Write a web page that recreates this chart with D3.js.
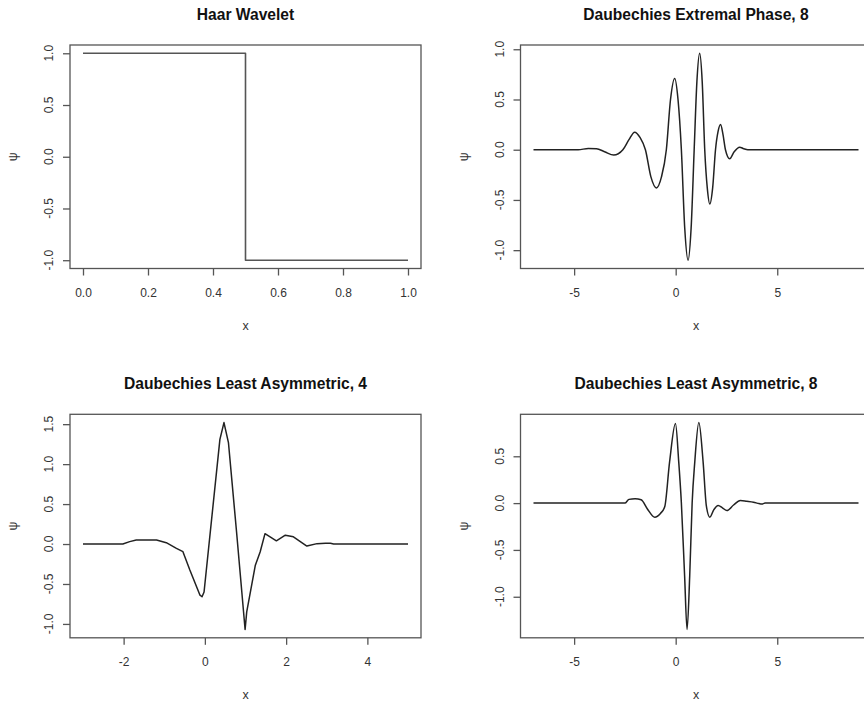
<!DOCTYPE html>
<html>
<head>
<meta charset="utf-8">
<script src="https://cdn.jsdelivr.net/npm/d3@7"></script>
<style>
  html, body { margin: 0; padding: 0; background: #fff; }
  svg { display: block; }
  text { font-family: "Liberation Sans", Arial, sans-serif; }
</style>
</head>
<body>
<svg id="chart" width="864" height="702"></svg>
<script>
// ---- Data ----
const titles = ["Haar Wavelet", "Daubechies Extremal Phase, 8", "Daubechies Least Asymmetric, 4", "Daubechies Least Asymmetric, 8"];

const haarX = [0, 0.5, 0.5, 1];
const haarY = [1, 1, -1, -1];

const ep8X = [-7, -4.8, -4.3, -3.9, -3.5, -3.05, -2.6, -2.3, -2.02, -1.75, -1.49, -1.22, -0.95, -0.7, -0.46, -0.255, -0.05, 0.115, 0.28, 0.445, 0.61, 0.76, 0.91, 1.045, 1.18, 1.305, 1.43, 1.555, 1.68, 1.82, 1.96, 2.085, 2.21, 2.33, 2.45, 2.66, 2.88, 3.15, 3.35, 3.55, 9];
const ep8Y = [0, 0, 0.012, 0.01, -0.02, -0.053, 0, 0.1, 0.175, 0.12, 0, -0.27, -0.38, -0.27, 0, 0.5, 0.71, 0.5, 0, -0.78, -1.1, -0.78, 0, 0.68, 0.96, 0.68, 0, -0.38, -0.54, -0.38, 0, 0.18, 0.25, 0.15, 0, -0.09, -0.02, 0.025, 0.01, 0, 0];

const la4X = [-3, -2.02, -1.85, -1.69, -1.19, -0.95, -0.7, -0.54, -0.37, -0.12, -0.07, -0.02, 0.37, 0.47, 0.58, 0.78, 0.99, 1.03, 1.24, 1.36, 1.48, 1.76, 1.98, 2.18, 2.51, 2.76, 2.97, 3.09, 3.17, 5];
const la4Y = [0, 0, 0.03, 0.05, 0.05, 0.017, -0.054, -0.096, -0.325, -0.64, -0.66, -0.6, 1.31, 1.52, 1.27, 0.15, -1.07, -0.85, -0.27, -0.1, 0.13, 0.04, 0.11, 0.09, -0.025, 0.005, 0.01, 0.01, 0, 0];

const la8X = [-7, -2.5, -2.3, -2.0, -1.7, -1.4, -1.03, -0.75, -0.54, -0.3, -0.01, 0.15, 0.28, 0.44, 0.56, 0.69, 0.81, 0.94, 1.14, 1.35, 1.51, 1.68, 1.88, 2.09, 2.3, 2.52, 2.85, 3.18, 3.5, 3.83, 4.1, 4.24, 4.4, 9];
const la8Y = [0, 0, 0.04, 0.046, 0.035, -0.06, -0.15, -0.11, -0.04, 0.44, 0.85, 0.44, 0, -0.78, -1.35, -0.78, 0, 0.44, 0.86, 0.44, -0.03, -0.15, -0.07, -0.025, -0.05, -0.08, -0.02, 0.028, 0.02, 0.01, -0.005, -0.01, 0, 0];

const haarXTicks = [0, 0.2, 0.4, 0.6, 0.8, 1.0];
const haarYTicks = [-1, -0.5, 0, 0.5, 1];
const ep8XTicks = [-5, 0, 5];
const ep8YTicks = [-1, -0.5, 0, 0.5, 1];
const la4XTicks = [-2, 0, 2, 4];
const la4YTicks = [-1, -0.5, 0, 0.5, 1, 1.5];
const la8XTicks = [-5, 0, 5];
const la8YTicks = [-1, -0.5, 0, 0.5];

// ---- Layout ----
const svg = d3.select("#chart");
const panelW = 351, panelH = 223.5;
const hy = f => (v => f(v).replace("\u2212", "-"));
const f1 = hy(d3.format(".1f"));
const f0 = hy(d3.format("d"));
const panels = [
  { title: titles[0], xs: haarX, ys: haarY, xt: haarXTicks, yt: haarYTicks, xf: f1, yf: f1, left: 70, top: 45, curve: d3.curveLinear, color: "#555", width: 1.6 },
  { title: titles[1], xs: ep8X, ys: ep8Y, xt: ep8XTicks, yt: ep8YTicks, xf: f0, yf: f1, left: 520.5, top: 45, curve: d3.curveMonotoneX, color: "#222", width: 1.5 },
  { title: titles[2], xs: la4X, ys: la4Y, xt: la4XTicks, yt: la4YTicks, xf: f0, yf: f1, left: 70, top: 414.3, curve: d3.curveLinear, color: "#222", width: 1.5 },
  { title: titles[3], xs: la8X, ys: la8Y, xt: la8XTicks, yt: la8YTicks, xf: f0, yf: f1, left: 520.5, top: 414.3, curve: d3.curveMonotoneX, color: "#222", width: 1.5 }
];

function padded(arr) {
  const [a, b] = d3.extent(arr);
  const p = (b - a) * 0.04;
  return [a - p, b + p];
}

panels.forEach(p => {
  const g = svg.append("g").attr("transform", `translate(${p.left},${p.top})`);
  const x = d3.scaleLinear().domain(padded(p.xs)).range([0, panelW]);
  const y = d3.scaleLinear().domain(padded(p.ys)).range([panelH, 0]);

  // data line
  const pts = p.xs.map((v, i) => [v, p.ys[i]]);
  g.append("path")
    .datum(pts)
    .attr("fill", "none")
    .attr("stroke", p.color)
    .attr("stroke-width", p.width)
    .attr("stroke-linejoin", "round")
    .attr("d", d3.line().x(d => x(d[0])).y(d => y(d[1])).curve(p.curve));

  // box
  g.append("rect")
    .attr("x", 0).attr("y", 0).attr("width", panelW).attr("height", panelH)
    .attr("fill", "none").attr("stroke", "#555").attr("stroke-width", 1.3);

  // x axis
  const xa = g.append("g").attr("transform", `translate(0,${panelH})`)
    .call(d3.axisBottom(x).tickValues(p.xt).tickSize(7).tickPadding(13).tickFormat(p.xf));
  xa.select(".domain").remove();
  xa.selectAll(".tick line").attr("stroke", "#555").attr("stroke-width", 1.3);
  xa.selectAll(".tick text").attr("fill", "#333").attr("font-size", 12).attr("font-family", "Liberation Sans, Arial, sans-serif");

  // y axis
  const ya = g.append("g")
    .call(d3.axisLeft(y).tickValues(p.yt).tickSize(7).tickFormat(""));
  ya.select(".domain").remove();
  ya.selectAll(".tick line").attr("stroke", "#555").attr("stroke-width", 1.3);
  g.selectAll(".ylab").data(p.yt).enter().append("text")
    .attr("class", "ylab")
    .attr("transform", d => `translate(-17,${y(d)}) rotate(-90)`)
    .attr("text-anchor", "middle")
    .attr("fill", "#333")
    .attr("font-size", 12)
    .text(d => p.yf(d));

  // title
  g.append("text")
    .attr("x", panelW / 2).attr("y", -25)
    .attr("text-anchor", "middle")
    .attr("font-size", 15.6).attr("font-weight", "bold").attr("fill", "#111")
    .text(p.title);

  // x label
  g.append("text")
    .attr("x", panelW / 2).attr("y", panelH + 61.5)
    .attr("text-anchor", "middle")
    .attr("font-size", 12.5).attr("fill", "#333")
    .text("x");

  // y label
  g.append("text")
    .attr("transform", `translate(-53,${panelH / 2}) rotate(-90)`)
    .attr("text-anchor", "middle")
    .attr("font-size", 12.5).attr("fill", "#333")
    .text("ψ");
});
</script>
</body>
</html>
